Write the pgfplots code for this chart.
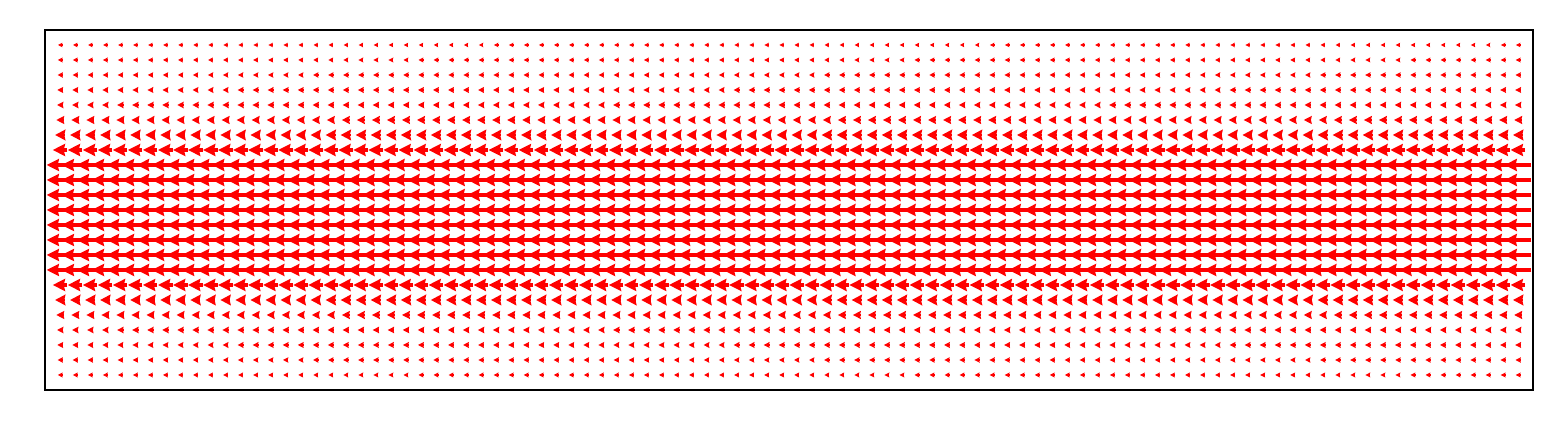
\documentclass[border=0pt]{standalone}
\usepackage{pgfplots}
\pgfplotsset{compat=1.18}
\usepackage{pgfplotstable}
\usetikzlibrary{arrows.meta}
\definecolor{qred}{rgb}{1,0,0}

% grid columns (x positions of the quiver arrows); second column unused
\pgfplotstableread{
x d
1 0
2 0
3 0
4 0
5 0
6 0
7 0
8 0
9 0
10 0
11 0
12 0
13 0
14 0
15 0
16 0
17 0
18 0
19 0
20 0
21 0
22 0
23 0
24 0
25 0
26 0
27 0
28 0
29 0
30 0
31 0
32 0
33 0
34 0
35 0
36 0
37 0
38 0
39 0
40 0
41 0
42 0
43 0
44 0
45 0
46 0
47 0
48 0
49 0
50 0
51 0
52 0
53 0
54 0
55 0
56 0
57 0
58 0
59 0
60 0
61 0
62 0
63 0
64 0
65 0
66 0
67 0
68 0
69 0
70 0
71 0
72 0
73 0
74 0
75 0
76 0
77 0
78 0
79 0
80 0
81 0
82 0
83 0
84 0
85 0
86 0
87 0
88 0
89 0
90 0
91 0
92 0
93 0
94 0
95 0
96 0
97 0
98 0
}\xgrid

% one row of arrows: #1 = y, #2 = arrow length (x units, pointing left, centred on grid point),
% #3 = head length, #4 = head width, #5 = shaft width, #6 = head inset
\newcommand{\qrow}[6]{%
  \addplot[qred, no markers, line width=#5, line cap=butt,
    -{Stealth[length=#3, width=#4, inset=#6]},
    quiver={u=-#2, v=0}]
    table[x expr=\thisrow{x}+#2/2, y expr=#1] {\xgrid};
}

\begin{document}
\begin{tikzpicture}
\useasboundingbox (-16.2pt,-16.2pt) rectangle (546.12pt,140.4pt);
\begin{axis}[
  scale only axis,
  width=535.68pt, height=129.6pt,
  xmin=0, xmax=99, ymin=0, ymax=24,
  xtick=\empty, ytick=\empty,
  axis line style={line width=0.8pt},
  clip=true,
]
\qrow{23}{0.27}{1.55pt}{1.55pt}{0.42pt}{0.15pt}
\qrow{22}{0.30}{1.72pt}{1.72pt}{0.47pt}{0.17pt}
\qrow{21}{0.33}{1.90pt}{1.90pt}{0.52pt}{0.19pt}
\qrow{20}{0.37}{2.10pt}{2.10pt}{0.57pt}{0.21pt}
\qrow{19}{0.40}{2.30pt}{2.30pt}{0.62pt}{0.23pt}
\qrow{18}{0.50}{2.85pt}{2.85pt}{0.78pt}{0.28pt}
\qrow{17}{0.66}{3.70pt}{3.80pt}{1.05pt}{0.37pt}
\qrow{16}{0.97}{4.40pt}{4.30pt}{1.15pt}{0.44pt}
\qrow{15}{1.78}{4.40pt}{4.30pt}{1.15pt}{0.44pt}
\qrow{14}{1.78}{4.40pt}{4.30pt}{1.15pt}{0.44pt}
\qrow{13}{1.78}{4.40pt}{4.30pt}{1.15pt}{0.44pt}
\qrow{12}{1.78}{4.40pt}{4.30pt}{1.15pt}{0.44pt}
\qrow{11}{1.78}{4.40pt}{4.30pt}{1.15pt}{0.44pt}
\qrow{10}{1.78}{4.40pt}{4.30pt}{1.15pt}{0.44pt}
\qrow{9}{1.78}{4.40pt}{4.30pt}{1.15pt}{0.44pt}
\qrow{8}{1.78}{4.40pt}{4.30pt}{1.15pt}{0.44pt}
\qrow{7}{0.97}{4.40pt}{4.30pt}{1.15pt}{0.44pt}
\qrow{6}{0.66}{3.70pt}{3.80pt}{1.05pt}{0.37pt}
\qrow{5}{0.50}{2.85pt}{2.85pt}{0.78pt}{0.28pt}
\qrow{4}{0.40}{2.30pt}{2.30pt}{0.62pt}{0.23pt}
\qrow{3}{0.37}{2.10pt}{2.10pt}{0.57pt}{0.21pt}
\qrow{2}{0.33}{1.90pt}{1.90pt}{0.52pt}{0.19pt}
\qrow{1}{0.30}{1.72pt}{1.72pt}{0.47pt}{0.17pt}
\end{axis}
\end{tikzpicture}
\end{document}
